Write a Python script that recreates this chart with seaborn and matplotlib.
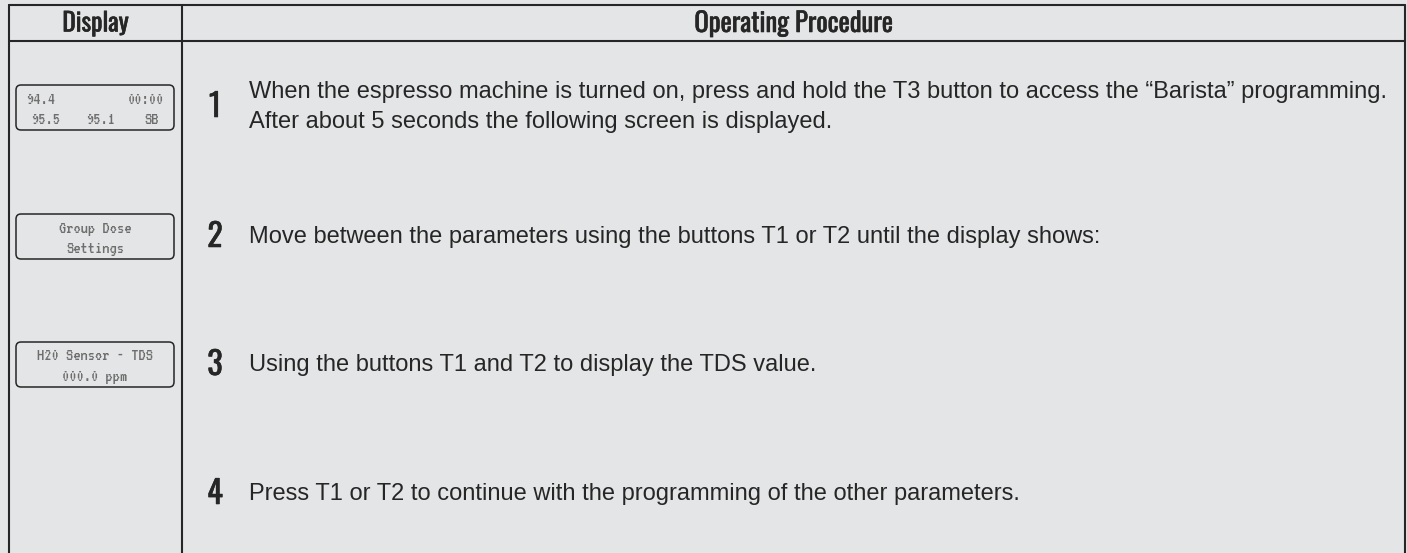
import matplotlib
matplotlib.use("Agg")
import matplotlib.pyplot as plt
import matplotlib.patheffects as pe
from matplotlib import font_manager
from matplotlib.patches import FancyBboxPatch
import seaborn as sns

# table content
headers = ["Display", "Operating Procedure"]
step_numbers = ["1", "2", "3", "4"]
step_texts = [
    "When the espresso machine is turned on, press and hold the T3 button to access the \u201cBarista\u201d programming.\n"
    "After about 5 seconds the following screen is displayed.",
    "Move between the parameters using the buttons T1 or T2 until the display shows:",
    "Using the buttons T1 and T2 to display the TDS value.",
    "Press T1 or T2 to continue with the programming of the other parameters.",
]
# LCD screens shown next to steps 1-3
lcd_home_top = ["94.4", "00:00"]
lcd_home_bottom = ["95.5", "95.1", "SB"]
lcd_group = ["Group Dose", "Settings"]
lcd_tds = ["H20 Sensor - TDS", "000.0 ppm"]

BG = "#e4e5e6"
INK = "#262626"
LCD = "#6e6e6e"

installed = {f.name for f in font_manager.fontManager.ttflist}


def pick(*names):
    for n in names:
        if n in installed:
            return n
    return "DejaVu Sans"


BODY = pick("Liberation Sans", "Open Sans")
COND = pick("Oswald", "Roboto Condensed", "Fira Sans Condensed", "Archivo Narrow",
            "PT Sans Narrow", "Liberation Sans Narrow")
DOTS = pick("VT323", "Ubuntu Mono", "DejaVu Sans Mono")

sns.set_theme(style="white", rc={"figure.facecolor": BG, "axes.facecolor": BG})
plt.rcParams["font.family"] = [BODY, "DejaVu Sans"]

W, H = 1407, 553
fig = plt.figure(figsize=(W / 100, H / 100), dpi=100)
ax = fig.add_axes([0, 0, 1, 1])
ax.set_xlim(0, W)
ax.set_ylim(H, 0)
ax.axis("off")
renderer = fig.canvas.get_renderer()


def fit(t, width):
    # scale a text so its rendered width matches the reference
    w = t.get_window_extent(renderer).width
    t.set_fontsize(t.get_fontsize() * width / w)


# table grid
x_left, x_div, x_right = 9, 182, 1405
y_top, y_head = 5, 41
lw = 1.5
ax.plot([x_left, x_right], [y_top, y_top], color=INK, lw=lw)
ax.plot([x_left, x_right], [y_head, y_head], color=INK, lw=lw)
for x in (x_left, x_div, x_right):
    ax.plot([x, x], [y_top, H + 5], color=INK, lw=lw)

heavy = [pe.withStroke(linewidth=0.4, foreground=INK)]
hd = dict(family=[COND, "DejaVu Sans"], weight="bold", color=INK, ha="center",
          va="center", path_effects=heavy)
t = ax.text((x_left + x_div) / 2, 23.5, headers[0], fontsize=15, **hd)
fit(t, 66)
t = ax.text((x_div + x_right) / 2, 23.5, headers[1], fontsize=15, **hd)
fit(t, 198)

# steps
row_y = [107, 237, 365, 494]
first = None
for num, txt, y in zip(step_numbers, step_texts, row_y):
    ax.text(215, y, num, fontsize=23, **hd)
    body = ax.text(249, y, txt.split("\n")[0], ha="left", va="center", fontsize=16,
                   color=INK)
    if first is None:
        first = body
        fit(body, 1138)
        body.set_text(txt)
        body.set_linespacing(1.42)
    else:
        body.set_fontsize(first.get_fontsize())

# LCD boxes
box_x0, box_x1 = 16, 174
box_tops = [85, 214, 342]
for top in box_tops:
    ax.add_patch(FancyBboxPatch((box_x0, top), box_x1 - box_x0, 45,
                                boxstyle="round,pad=0,rounding_size=5",
                                fc="none", ec=INK, lw=1.1))

mono = dict(family=[DOTS, "DejaVu Sans Mono"], fontsize=13, color=LCD, va="center")
ax.text(26, 100, lcd_home_top[0], ha="left", **mono)
ax.text(164, 100, lcd_home_top[1], ha="right", **mono)
for x, s in zip([46, 101, 152], lcd_home_bottom):
    ax.text(x, 121, s, ha="center", **mono)
for top, lines in zip(box_tops[1:], [lcd_group, lcd_tds]):
    ax.text(95, top + 15, lines[0], ha="center", **mono)
    ax.text(95, top + 36, lines[1], ha="center", **mono)

fig.savefig("out.png", dpi=100, facecolor=BG)
